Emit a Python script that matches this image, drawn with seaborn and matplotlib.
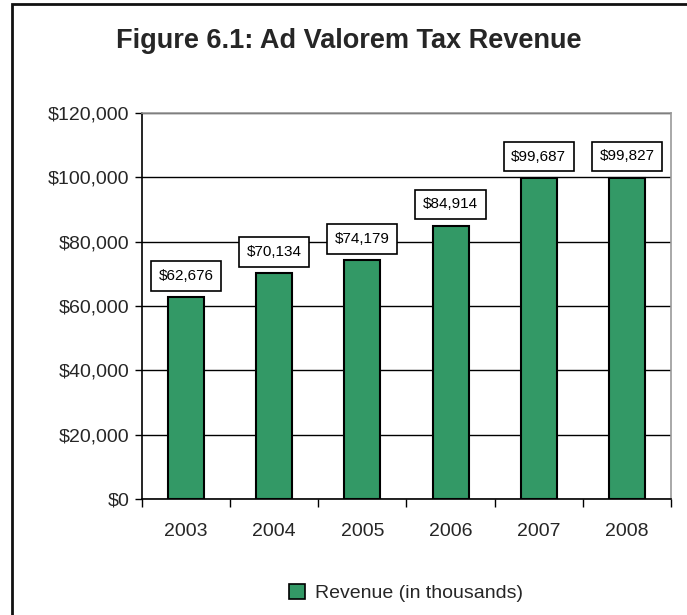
import matplotlib
matplotlib.use("Agg")
import matplotlib.pyplot as plt
from matplotlib.patches import Patch, Rectangle
from matplotlib.ticker import FuncFormatter, FixedLocator
import pandas as pd
import seaborn as sns

years = ["2003", "2004", "2005", "2006", "2007", "2008"]
revenue = [62676, 70134, 74179, 84914, 99687, 99827]
yticks = [0, 20000, 40000, 60000, 80000, 100000, 120000]
title = "Figure 6.1: Ad Valorem Tax Revenue"
series_name = "Revenue (in thousands)"

sns.set_theme(style="white")
plt.rcParams["font.family"] = ["Liberation Sans", "DejaVu Sans"]

green = "#339966"
df = pd.DataFrame({"year": years, "revenue": revenue})

fig = plt.figure(figsize=(6.87, 6.15), dpi=100)
ax = fig.add_axes([142 / 687, 1 - 499 / 615, (671 - 142) / 687, (499 - 113) / 615])

sns.barplot(data=df, x="year", y="revenue", color=green, edgecolor="black",
            linewidth=1.5, width=0.41, saturation=1, ax=ax)

ax.set_ylim(0, 120000)
ax.set_xlim(-0.5, len(years) - 0.5)
ax.set_yticks(yticks)
ax.yaxis.set_major_formatter(FuncFormatter(lambda v, p: "${:,.0f}".format(v)))
ax.yaxis.grid(True, color="black", linewidth=1)
ax.set_axisbelow(True)
ax.set_xlabel("")
ax.set_ylabel("")

ax.tick_params(axis="y", which="major", direction="out", length=5, width=1,
               color="black", labelsize=14, pad=4, left=True)
ax.tick_params(axis="x", which="major", length=0, labelsize=14, pad=17)
ax.xaxis.set_minor_locator(FixedLocator([i - 0.5 for i in range(len(years) + 1)]))
ax.tick_params(axis="x", which="minor", direction="out", length=6, width=1,
               color="black", bottom=True)

for side in ["left", "bottom"]:
    ax.spines[side].set_color("black")
    ax.spines[side].set_linewidth(1.2)
for side in ["top", "right"]:
    ax.spines[side].set_visible(True)
    ax.spines[side].set_color("#999999")
    ax.spines[side].set_linewidth(1.2)

for i, v in enumerate(revenue):
    ax.annotate("${:,}".format(v), xy=(i, v), xytext=(0, 21.5),
                textcoords="offset pixels", ha="center", va="center",
                fontsize=11, color="black",
                bbox=dict(boxstyle="square,pad=0.5", fc="white", ec="black", lw=1.2))

fig.text(0.508, 1 - 41 / 615, title, ha="center", va="center",
         fontsize=19.5, fontweight="bold")

handle = Patch(facecolor=green, edgecolor="black", linewidth=1.2)
fig.legend([handle], [series_name], loc="center",
           bbox_to_anchor=(406 / 687, 1 - 593 / 615), frameon=False,
           fontsize=14, handlelength=0.8, handleheight=0.8, handletextpad=0.5)

# outer frame of the figure (only left and top edges show in the picture)
fig.patches.append(Rectangle((12 / 687, -0.05), 1.1, 1 - 4 / 615 + 0.05,
                             transform=fig.transFigure, fill=False,
                             edgecolor="#111111", linewidth=2))

fig.savefig("out.png", dpi=100)
